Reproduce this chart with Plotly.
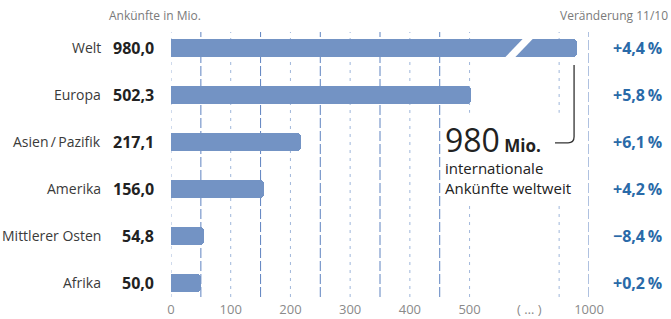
import plotly.graph_objects as go

# ---------------- data ----------------
categories = ["Welt", "Europa", "Asien\u2009/\u2009Pazifik", "Amerika", "Mittlerer Osten", "Afrika"]
arrivals = [980.0, 502.3, 217.1, 156.0, 54.8, 50.0]          # Ankünfte in Mio.
changes = [4.4, 5.8, 6.1, 4.2, -8.4, 0.2]                      # Veränderung 11/10 in %
tick_values = [0, 100, 200, 300, 400, 500, 1000]
tick_labels = ["0", "100", "200", "300", "400", "500", "1000"]
break_label = "( \u2026 )"
grid_major = [0, 100, 200, 300, 400, 500, 950]
grid_minor = [50, 150, 250, 350, 450, 1000]
highlight_value = "980"
highlight_unit = "Mio."
highlight_text = "internationale<br>Ankünfte weltweit"

# ---------------- broken axis: 600..900 collapsed ----------------
BREAK_LO, BREAK_HI = 600, 900


def pos(v):
    return v if v <= BREAK_LO else v - (BREAK_HI - BREAK_LO)


# ---------------- layout constants ----------------
W, H = 671, 319
L, R, T, B = 171, 82, 32, 22
PW = W - L - R
PH = H - T - B
FONT = "Open Sans"
BAR_COLOR = "#7393c4"
BLUE_TXT = "#2a6aa8"


def px_x(px):
    return (px - L) / PW


def px_y(py):
    return 1 - (py - T) / PH


def fmt_de(v, nd=1):
    return f"{v:.{nd}f}".replace(".", ",")


n = len(categories)
ypos = list(range(n))

fig = go.Figure()
fig.add_trace(go.Bar(
    x=[pos(v) for v in arrivals],
    y=ypos,
    orientation="h",
    width=0.38,
    marker=dict(color=BAR_COLOR, line=dict(width=0), cornerradius=4),
    hoverinfo="skip",
))

shapes = []
for g in grid_major:
    shapes.append(dict(type="line", xref="x", yref="paper", x0=pos(g), x1=pos(g), y0=0, y1=1,
                       line=dict(color="#9fb6da", width=1, dash="3px,5px"), layer="below"))
for g in grid_minor:
    shapes.append(dict(type="line", xref="x", yref="paper", x0=pos(g), x1=pos(g), y0=0, y1=1,
                       line=dict(color="#5e83c0", width=1, dash="10px,3px"), layer="below"))

# white box behind callout text
shapes.append(dict(type="rect", xref="x", yref="y", x0=460, x1=668, y0=1.38, y1=3.28,
                   fillcolor="white", line=dict(width=0), layer="below"))

# axis-break cut in the Welt bar
shapes.append(dict(type="path", xref="x", yref="y",
                   path="M 592.5,-0.24 L 609.3,-0.24 L 573.1,0.24 L 556.4,0.24 Z",
                   fillcolor="white", line=dict(width=0), layer="above"))

# callout hook line
shapes.append(dict(type="path", xref="x", yref="y",
                   path="M 675,0.36 L 675,1.89 Q 675,2.02 665,2.02 L 643,2.02",
                   line=dict(color="#333333", width=1.3), layer="above"))

annotations = []
for i, (c, v, ch) in enumerate(zip(categories, arrivals, changes)):
    annotations.append(dict(xref="paper", yref="y", x=px_x(103), y=i, text=c, showarrow=False,
                            xanchor="right", yanchor="middle",
                            font=dict(family=FONT, size=14, color="#3a3a3a")))
    annotations.append(dict(xref="paper", yref="y", x=px_x(156), y=i, text=f"<b>{fmt_de(v)}</b>",
                            showarrow=False, xanchor="right", yanchor="middle",
                            font=dict(family=FONT, size=16, color="#222222")))
    sign = "+" if ch >= 0 else "\u2212"
    annotations.append(dict(xref="paper", yref="y", x=px_x(664), y=i,
                            text=f"<b>{sign}{fmt_de(abs(ch))}\u2009%</b>",
                            showarrow=False, xanchor="right", yanchor="middle",
                            font=dict(family=FONT, size=16, color=BLUE_TXT)))

annotations.append(dict(xref="paper", yref="paper", x=px_x(155), y=px_y(15), text="Ankünfte in Mio.",
                        showarrow=False, xanchor="center", yanchor="middle",
                        font=dict(family=FONT, size=12, color="#7a7a7a")))
annotations.append(dict(xref="paper", yref="paper", x=px_x(670), y=px_y(15), text="Veränderung 11/10",
                        showarrow=False, xanchor="right", yanchor="middle",
                        font=dict(family=FONT, size=12, color="#7a7a7a")))

annotations.append(dict(xref="paper", yref="paper", x=px_x(443), y=px_y(139),
                        text=f"<span style='font-size:32px'>{highlight_value}</span> <b>{highlight_unit}</b>",
                        showarrow=False, xanchor="left", yanchor="middle",
                        font=dict(family=FONT, size=17, color="#222222")))
annotations.append(dict(xref="paper", yref="paper", x=px_x(443), y=px_y(178),
                        text=highlight_text, showarrow=False, xanchor="left", yanchor="middle",
                        align="left",
                        font=dict(family=FONT, size=15, color="#222222")))

fig.update_layout(
    width=W, height=H,
    margin=dict(l=L, r=R, t=T, b=B, autoexpand=False),
    paper_bgcolor="white", plot_bgcolor="white",
    showlegend=False,
    shapes=shapes,
    annotations=annotations,
    font=dict(family=FONT),
    bargap=0,
    xaxis=dict(range=[0, pos(1000)], fixedrange=True, automargin=False,
               tickvals=[pos(t) for t in tick_values] + [BREAK_LO],
               ticktext=tick_labels + [break_label],
               showgrid=False, zeroline=False, showline=False, ticks="",
               ticklabelstandoff=3,
               tickfont=dict(family=FONT, size=13, color="#8a8a8a")),
    yaxis=dict(range=[5.3, -0.34], fixedrange=True, showticklabels=False, automargin=False,
               showgrid=False, zeroline=False, showline=False, ticks=""),
)

fig.write_html(
    "out.html",
    config={"displayModeBar": False},
    post_script="document.body.style.margin='0';document.body.style.overflow='hidden';",
)
